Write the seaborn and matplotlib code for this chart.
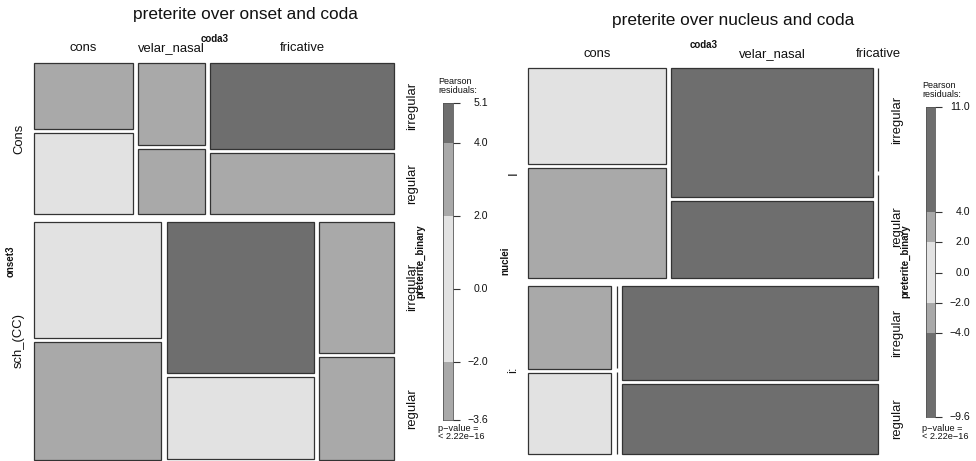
import numpy as np
import matplotlib
matplotlib.use("Agg")
import matplotlib.pyplot as plt
import matplotlib.transforms as mtransforms
import seaborn as sns

# ---------------- data ----------------
coda_levels = ["cons", "velar_nasal", "fricative"]
pret_levels = ["irregular", "regular"]

onset_levels = ["Cons", "sch_(CC)"]
onset_irregular = [[49, 41, 119], [111, 166, 74]]
onset_regular = [[61, 33, 85], [112, 91, 58]]
onset_resid_irregular = [[-2.9, 2.6, 5.1], [1.5, 4.6, -2.8]]
onset_resid_regular = [[1.2, -2.3, -3.6], [2.4, -1.8, 3.1]]
onset_legend_ticks = [5.1, 4.0, 2.0, 0.0, -2.0, -3.6]

nuclei_levels = ["I", "i:"]
nuclei_irregular = [[105, 206, 0], [55, 0, 193]]
nuclei_regular = [[120, 124, 0], [54, 0, 143]]
nuclei_resid_irregular = [[-1.2, 11.0, 0.0], [2.5, 0.0, -9.6]]
nuclei_resid_regular = [[3.0, -6.5, 0.0], [0.8, 0.0, 5.8]]
nuclei_legend_ticks = [11.0, 4.0, 2.0, 0.0, -2.0, -4.0, -9.6]

# ---------------- style ----------------
sns.set_theme(style="white")
plt.rcParams["font.family"] = ["Liberation Sans", "DejaVu Sans"]
shades = sns.color_palette(["#e2e2e2", "#a9a9a9", "#6e6e6e"])
EDGE = "#333333"

FW, FH = 976, 461
fig = plt.figure(figsize=(FW / 100, FH / 100), dpi=100)
fig.patch.set_facecolor("white")


def fbox(x0, y0, x1, y1):
    return [x0 / FW, 1 - y1 / FH, (x1 - x0) / FW, (y1 - y0) / FH]


def shade(r):
    a = abs(r)
    return shades[2] if a > 4 else (shades[1] if a > 2 else shades[0])


def minus(s):
    return s.replace("-", "\u2212")


def mosaic(box, rows, irr, reg, rirr, rreg, rowvar, g1=7.7, g2=5.3, g3=4.0,
           toplab=15, rightlab=18):
    x0, y0, x1, y1 = box
    W, H = x1 - x0, y1 - y0
    ax = fig.add_axes(fbox(*box))
    ax.set_xlim(0, W)
    ax.set_ylim(H, 0)
    ax.set_axis_off()
    irr = np.asarray(irr, float)
    reg = np.asarray(reg, float)
    tot = irr + reg
    rtot = tot.sum(1)
    nrow, ncol = tot.shape
    availH = H - (nrow - 1) * g1
    y = 0.0
    for i in range(nrow):
        rh = availH * rtot[i] / rtot.sum()
        availW = W - (ncol - 1) * g2
        x = 0.0
        for j in range(ncol):
            cw = availW * tot[i, j] / rtot[i]
            inner = rh - g3
            f = irr[i, j] / tot[i, j] if tot[i, j] > 0 else 0.5
            h1 = inner * f
            h2 = inner - h1
            ax.bar(x, h1, width=cw, bottom=y, align="edge",
                   color=shade(rirr[i][j]), edgecolor=EDGE, linewidth=0.9,
                   clip_on=False)
            ax.bar(x, h2, width=cw, bottom=y + h1 + g3, align="edge",
                   color=shade(rreg[i][j]), edgecolor=EDGE, linewidth=0.9,
                   clip_on=False)
            if i == 0:
                ax.text(x + cw / 2, -toplab, coda_levels[j], ha="center",
                        va="center", fontsize=9.4, color="#111111")
            if j == ncol - 1:
                ax.text(W + rightlab, y + h1 / 2, pret_levels[0], rotation=90,
                        ha="center", va="center", fontsize=9.4, color="#111111")
                ax.text(W + rightlab, y + h1 + g3 + h2 / 2, pret_levels[1],
                        rotation=90, ha="center", va="center", fontsize=9.4,
                        color="#111111")
            x += cw + g2
        ax.text(-15, y + rh / 2, rows[i], rotation=90, ha="center",
                va="center", fontsize=9.4, color="#111111")
        y += rh + g1
    ax.text(W / 2, -toplab - 9, "coda3", ha="center", va="center",
            fontsize=7, fontweight="bold", color="#111111")
    ax.text(-23, H / 2, rowvar, rotation=90, ha="center", va="center",
            fontsize=7, fontweight="bold", color="#111111")
    ax.text(W + rightlab + 8, H / 2, "preterite_binary", rotation=90,
            ha="center", va="center", fontsize=7, fontweight="bold",
            color="#111111")
    return ax


def legend(box, ticks, label_right, head_y, pval_y, text_x):
    x0, y0, x1, y1 = box
    lax = fig.add_axes(fbox(*box))
    vmax, vmin = ticks[0], ticks[-1]
    edges = sorted(set([vmin, vmax] + [t for t in ticks if abs(abs(t) - 2) < 1e-9 or abs(abs(t) - 4) < 1e-9]))
    lo = np.array(edges[:-1])
    hi = np.array(edges[1:])
    cols = [shade((a + b) / 2) for a, b in zip(lo, hi)]
    lax.bar(0, hi - lo, bottom=lo, width=1, align="edge", color=cols,
            linewidth=0)
    lax.set_xlim(0, 1)
    lax.set_ylim(vmin, vmax)
    lax.set_xticks([])
    lax.yaxis.tick_right()
    lax.set_yticks(ticks)
    lax.set_yticklabels([])
    lax.tick_params(axis="y", length=5, width=0.8, color="#333333", right=True,
                    left=False)
    for s in lax.spines.values():
        s.set_color("#555555")
        s.set_linewidth(0.6)
    bw = x1 - x0
    tr = mtransforms.blended_transform_factory(lax.transAxes, lax.transData)
    for t in ticks:
        lax.text((label_right - x0) / bw, t, minus(f"{t:.1f}"), transform=tr,
                 ha="right", va="center", fontsize=7.6, color="#111111",
                 clip_on=False)
    fig.text(text_x / FW, 1 - head_y / FH, "Pearson", fontsize=6.5,
             va="center", ha="left", color="#111111")
    fig.text(text_x / FW, 1 - (head_y + 8.5) / FH, "residuals:", fontsize=6.5,
             va="center", ha="left", color="#111111")
    fig.text(text_x / FW, 1 - pval_y / FH, minus("p-value ="), fontsize=6.6,
             va="center", ha="left", color="#111111")
    fig.text(text_x / FW, 1 - (pval_y + 8) / FH, minus("< 2.22e-16"),
             fontsize=6.6, va="center", ha="left", color="#111111")


# ---------------- left panel ----------------
mosaic((34, 63.3, 394.3, 459.5), onset_levels, onset_irregular, onset_regular,
       onset_resid_irregular, onset_resid_regular, "onset3",
       g1=7.7, toplab=15, rightlab=18)
legend((443, 103, 453, 420), onset_legend_ticks, 488, 82, 428, 438)
fig.text(245 / FW, 1 - 15 / FH, "preterite over onset and coda", ha="center",
         va="center", fontsize=12.4, color="#111111")

# ---------------- right panel ----------------
mosaic((528.3, 68.3, 878.3, 454), nuclei_levels, nuclei_irregular,
       nuclei_regular, nuclei_resid_irregular, nuclei_resid_regular, "nuclei",
       g1=8.3, toplab=14, rightlab=19)
legend((926, 107, 935, 417), nuclei_legend_ticks, 970, 86, 428, 922)
fig.text(733 / FW, 1 - 21 / FH, "preterite over nucleus and coda",
         ha="center", va="center", fontsize=12.4, color="#111111")

fig.savefig("out.png", dpi=100, facecolor="white")
